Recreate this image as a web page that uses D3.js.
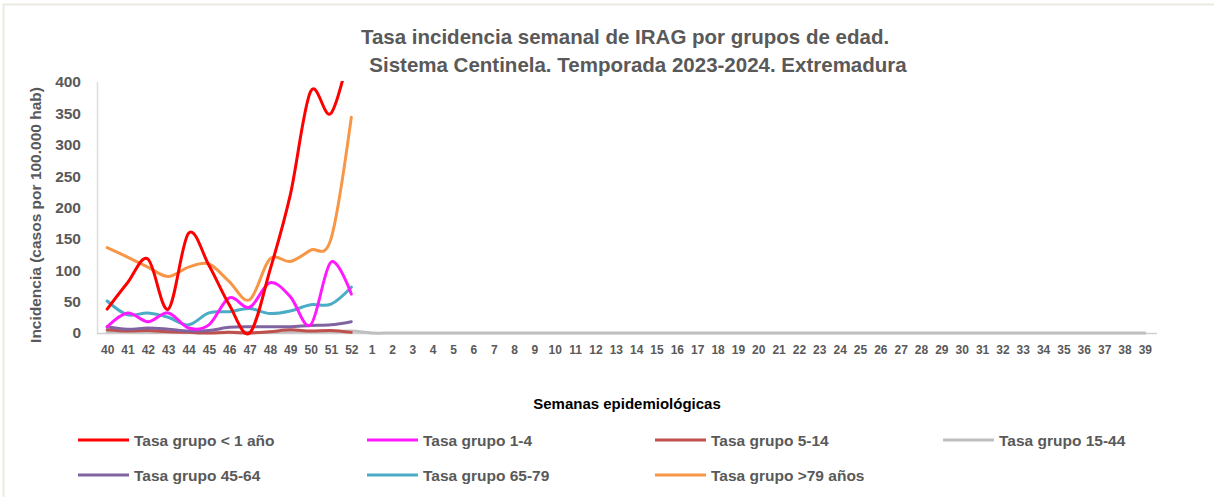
<!DOCTYPE html>
<html><head><meta charset="utf-8">
<script src="https://cdn.jsdelivr.net/npm/d3@7"></script>
<style>body{margin:0;background:#fff}svg{display:block}</style>
</head><body>
<svg id="c" width="1214" height="497"></svg>
<script>
const weeks = [40,41,42,43,44,45,46,47,48,49,50,51,52,1,2,3,4,5,6,7,8,9,10,11,12,13,14,15,16,17,18,19,20,21,22,23,24,25,26,27,28,29,30,31,32,33,34,35,36,37,38,39];
const yTicks = [0,50,100,150,200,250,300,350,400];
const seriesNames = ["Tasa grupo < 1 año","Tasa grupo 1-4","Tasa grupo 5-14","Tasa grupo 15-44","Tasa grupo 45-64","Tasa grupo 65-79","Tasa grupo >79 años"];
const seriesColors = ["#ff0000","#ff19ff","#c0504d","#bfbfbf","#8064a2","#4bacc6","#f79646"];
const lt1 = [38,80,118,38,159,108,45,0,100,220,385,350,460];
const g1_4 = [10,32,18,32,8,13,56,41,80,58,13,113,62];
const g5_14 = [5,3,4,2,1,0,1,0,2,5,3,4,1];
const g15_44 = [2,2,1,1,1,1,1,1,1,2,2,2,3,0,0,0,0,0,0,0,0,0,0,0,0,0,0,0,0,0,0,0,0,0,0,0,0,0,0,0,0,0,0,0,0,0,0,0,0,0,0,0];
const g45_64 = [10,6,8,6,3,4,9,10,10,10,12,13,18];
const g65_79 = [51,29,32,25,13,32,34,39,31,35,45,46,73];
const g79 = [136,121,105,90,105,110,82,53,118,114,132,150,344];
const seriesData = [lt1,g1_4,g5_14,g15_44,g45_64,g65_79,g79];

const svg = d3.select("#c");
const font = "'Liberation Sans',Arial,sans-serif";
const grey = "#595959";

svg.append("rect").attr("x",3.5).attr("y",4.5).attr("width",1215).attr("height",500)
  .attr("fill","none").attr("stroke","#ece9e1").attr("stroke-width",2);

const x = d3.scalePoint().domain(weeks).range([97,1155]).padding(0.5);
const y = d3.scaleLinear().domain([0,400]).range([333,82]);

// title
const t = svg.append("text").attr("text-anchor","middle").attr("font-family",font)
  .attr("font-weight","bold").attr("font-size",20.5).attr("fill",grey);
t.append("tspan").attr("x",625).attr("y",44).text("Tasa incidencia semanal de IRAG por grupos de edad.");
t.append("tspan").attr("x",638).attr("y",72).text("Sistema Centinela. Temporada 2023-2024. Extremadura");

// axes
svg.append("line").attr("x1",97.5).attr("x2",97.5).attr("y1",82).attr("y2",333).attr("stroke","#e0dcd4").attr("stroke-width",1.5);
svg.append("line").attr("x1",97).attr("x2",1157).attr("y1",333.5).attr("y2",333.5).attr("stroke","#d0d0d0").attr("stroke-width",1.5);

const ya = svg.append("g").attr("transform","translate(81,0)")
  .call(d3.axisLeft(y).tickValues(yTicks).tickSize(0).tickPadding(0));
ya.select(".domain").remove();
ya.selectAll("text").attr("font-family",font).attr("font-weight","bold").attr("font-size",15.5).attr("fill",grey);

const xa = svg.append("g").attr("transform","translate(0,345)")
  .call(d3.axisBottom(x).tickSize(0).tickPadding(0));
xa.select(".domain").remove();
xa.selectAll("text").attr("font-family",font).attr("font-weight","bold").attr("font-size",12).attr("fill",grey);

svg.append("text").attr("transform","translate(41,215) rotate(-90)").attr("text-anchor","middle")
  .attr("font-family",font).attr("font-weight","bold").attr("font-size",15.5).attr("fill",grey)
  .text("Incidencia (casos por 100.000 hab)");

svg.append("text").attr("x",627).attr("y",409).attr("text-anchor","middle")
  .attr("font-family",font).attr("font-weight","bold").attr("font-size",15).attr("fill","#000")
  .text("Semanas epidemiológicas");

// clip
svg.append("clipPath").attr("id","clp").append("rect").attr("x",90).attr("y",81).attr("width",1080).attr("height",270);

const line = d3.line().x((d,i)=>x(weeks[i])).y(d=>y(d)).curve(d3.curveCatmullRom.alpha(0));
const order = [3,2,4,5,6,1,0];
const lg = svg.append("g").attr("clip-path","url(#clp)");
order.forEach(k=>{
  lg.append("path").attr("d",line(seriesData[k])).attr("fill","none")
    .attr("stroke",seriesColors[k]).attr("stroke-width",3).attr("stroke-linejoin","round").attr("stroke-linecap","round");
});

// legend
const lx = [78,367,655,943];
seriesNames.forEach((n,i)=>{
  const cx = lx[i%4], cy = i<4?440:475;
  svg.append("line").attr("x1",cx).attr("x2",cx+51).attr("y1",cy).attr("y2",cy)
    .attr("stroke",seriesColors[i]).attr("stroke-width",3);
  svg.append("text").attr("x",cx+56).attr("y",cy+5.5).attr("font-family",font)
    .attr("font-weight","bold").attr("font-size",15.5).attr("fill",grey).text(n);
});
</script>
</body></html>
